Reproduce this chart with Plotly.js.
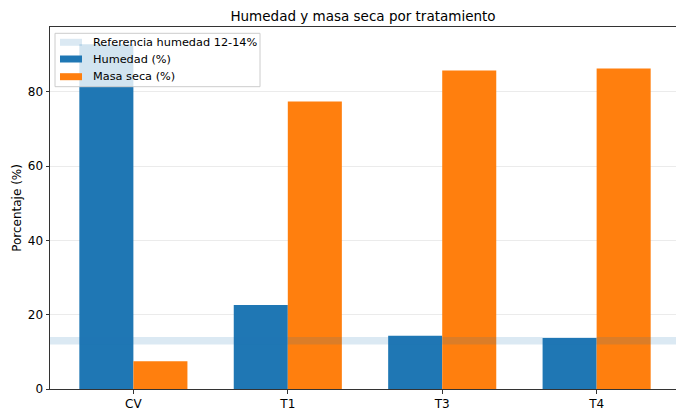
<!DOCTYPE html>
<html>
<head>
<meta charset="utf-8">
<script src="https://cdn.plot.ly/plotly-3.0.1.min.js"></script>
<style>html,body{margin:0;padding:0;background:#fff;}#chart{width:676px;height:408px;}</style>
</head>
<body>
<div id="chart"></div>
<script>
const categories = ["CV", "T1", "T3", "T4"];
const humedad = [92.8, 22.6, 14.3, 13.7];
const masaSeca = [7.5, 77.4, 85.7, 86.3];
const referenciaHumedad = [12, 14];
const yTicks = [0, 20, 40, 60, 80];
const titleText = "Humedad y masa seca por tratamiento";
const yLabel = "Porcentaje (%)";
const names = ["Referencia humedad 12-14%", "Humedad (%)", "Masa seca (%)"];

const xIdx = categories.map((_, i) => i);
const FONT = "DejaVu Sans, sans-serif";
const COLORS = ["rgba(31,119,180,0.16)", "#1f77b4", "#ff7f0e"];

const data = [
  {type: "bar", x: xIdx, y: humedad, name: names[1], showlegend: false,
   marker: {color: COLORS[1], line: {width: 0}}},
  {type: "bar", x: xIdx, y: masaSeca, name: names[2], showlegend: false,
   marker: {color: COLORS[2], line: {width: 0}}}
];

const yMax = Math.max(...humedad, ...masaSeca) * 1.05;

// plot area in pixels: left 50, top 27, width 626, height 362
const L = 50, T = 27, W = 626, H = 362;
const px = x => (x - L) / W;
const py = y => 1 - (y - T) / H;

const shapes = [
  {type: "rect", xref: "paper", x0: 0, x1: 1, yref: "y",
   y0: referenciaHumedad[0], y1: referenciaHumedad[1],
   fillcolor: COLORS[0], line: {width: 0}, layer: "above"},
  // legend box
  {type: "rect", xref: "paper", yref: "paper", x0: px(55), x1: px(260), y0: py(86.7), y1: py(33.3),
   fillcolor: "rgba(255,255,255,0.8)", line: {color: "#cccccc", width: 1}, layer: "above"}
];
const annotations = [];
const rowY = [42.3, 59, 76.7];
names.forEach((n, i) => {
  shapes.push({type: "rect", xref: "paper", yref: "paper", x0: px(60), x1: px(82),
    y0: py(rowY[i] + 3.5), y1: py(rowY[i] - 3.5), fillcolor: COLORS[i], line: {width: 0}, layer: "above"});
  annotations.push({xref: "paper", yref: "paper", x: px(91), y: py(rowY[i]), xanchor: "left", yanchor: "middle",
    text: n, showarrow: false, font: {family: FONT, size: 11.3, color: "#000"}});
});

const layout = {
  width: 676, height: 408,
  margin: {l: L, r: 0, t: T, b: 408 - T - H},
  paper_bgcolor: "#fff", plot_bgcolor: "#fff",
  font: {family: FONT, size: 12, color: "#000"},
  barmode: "group", bargap: 0.3, bargroupgap: 0,
  title: {text: titleText, font: {family: FONT, size: 13.5, color: "#000"},
          x: 0.5, xref: "paper", xanchor: "center", y: 1 - 16/408, yref: "container", yanchor: "middle"},
  xaxis: {range: [-0.54, 3.514], tickvals: xIdx, ticktext: categories,
          showline: true, linecolor: "#333", linewidth: 1, mirror: true,
          ticks: "outside", ticklen: 3.5, tickcolor: "#333", showgrid: false, zeroline: false,
          tickfont: {family: FONT, size: 12, color: "#000"}},
  yaxis: {range: [0, yMax], tickvals: yTicks, showline: true, linecolor: "#333", linewidth: 1,
          ticks: "outside", ticklen: 3.5, tickcolor: "#333",
          showgrid: true, gridcolor: "#ebebeb", gridwidth: 1, zeroline: false,
          tickfont: {family: FONT, size: 12, color: "#000"},
          title: {text: yLabel, font: {family: FONT, size: 12, color: "#000"}, standoff: 3}},
  shapes: shapes,
  annotations: annotations,
  showlegend: false
};

Plotly.newPlot("chart", data, layout, {displayModeBar: false, staticPlot: true});
</script>
</body>
</html>
